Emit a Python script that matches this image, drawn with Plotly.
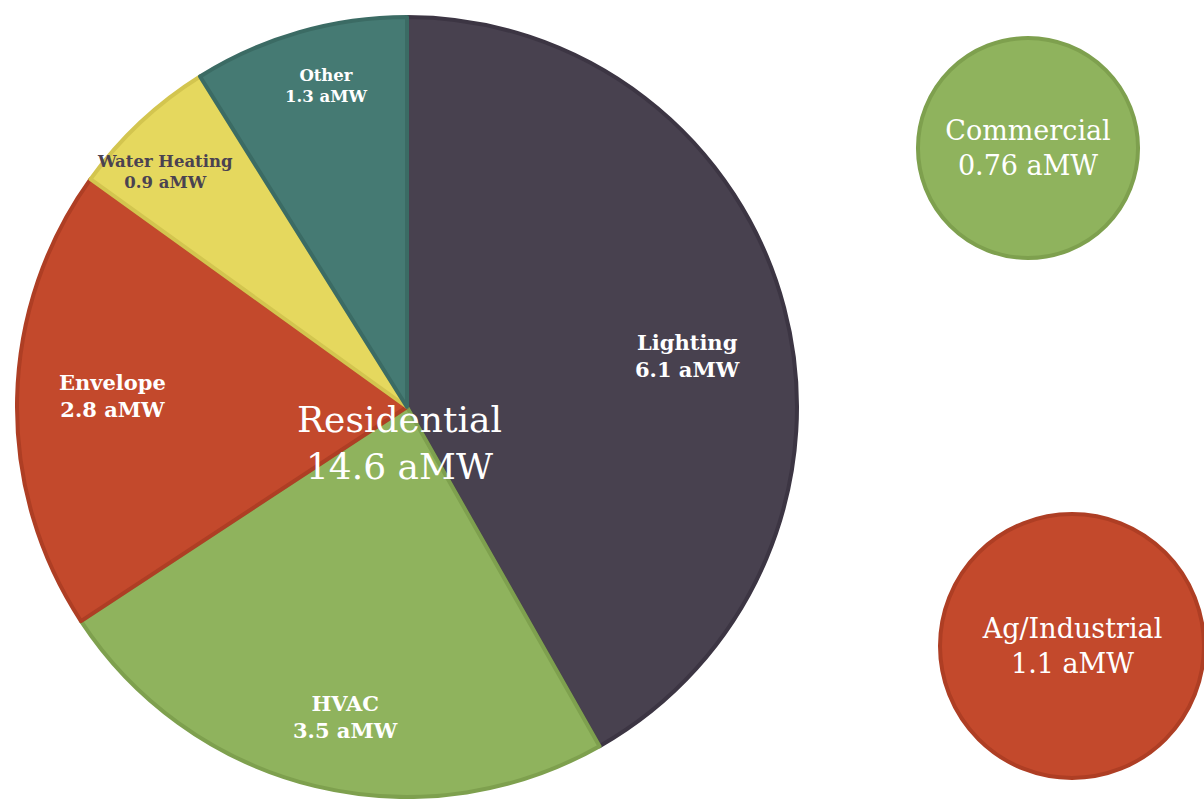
import math
import plotly.graph_objects as go

# ---- data ----
res_labels = ["Lighting", "HVAC", "Envelope", "Water Heating", "Other"]
res_values = [6.1, 3.5, 2.8, 0.9, 1.3]
res_total_label = "Residential"
res_total_value = 14.6
sector_labels = ["Commercial", "Ag/Industrial"]
sector_values = [0.76, 1.1]
unit = "aMW"

# ---- style ----
W, H = 1204, 799
slice_colors = ["#48414F", "#8FB35D", "#C3492C", "#E5D85E", "#457A73"]
slice_lines = ["#3C3543", "#7EA04E", "#AE3E24", "#D3C54F", "#3B6B64"]
label_colors = ["white", "white", "white", "#4A4251", "white"]
label_sizes = [21, 21, 21, 16.5, 16.5]
label_rfrac = [0.73, 0.81, 0.755, 0.865, 0.85]
label_dang = [4.5, -2.3, 0.9, -2.6, 1.9]
serif = "DejaVu Serif"

# main pie geometry (pixels)
cx, cy, R = 407, 407, 390

fig = go.Figure()
fig.add_trace(go.Pie(
    labels=res_labels, values=res_values, sort=False, direction="clockwise",
    rotation=0, textinfo="none", hoverinfo="label+value",
    marker=dict(colors=slice_colors, line=dict(color=slice_lines, width=4)),
    domain=dict(x=[(cx - R) / W, (cx + R) / W], y=[(H - cy - R) / H, (H - cy + R) / H]),
    showlegend=False,
))

# side circles (single-value pies)
circ = [
    dict(c=(1028, 148), r=110, color="#8FB35D", line="#7EA04E"),
    dict(c=(1073, 646), r=133, color="#C3492C", line="#AE3E24"),
]
for lab, val, g in zip(sector_labels, sector_values, circ):
    (x0, y0), r = g["c"], g["r"]
    fig.add_trace(go.Pie(
        labels=[lab], values=[val], sort=False, textinfo="text",
        text=[f"{lab}<br>{val:g} {unit}"], textposition="inside",
        insidetextfont=dict(family=serif, size=27, color="white"),
        marker=dict(colors=[g["color"]], line=dict(color=g["line"], width=4)),
        domain=dict(x=[max(0, (x0 - r) / W), min(1, (x0 + r) / W)],
                    y=[(H - y0 - r) / H, (H - y0 + r) / H]),
        showlegend=False, hoverinfo="label+value",
    ))

# slice labels placed from data angles
ann = []
total = sum(res_values)
cum = 0.0
for i, (lab, val) in enumerate(zip(res_labels, res_values)):
    mid = (cum + val / 2) / total * 360 + label_dang[i]
    cum += val
    th = math.radians(mid)
    px = cx + label_rfrac[i] * R * math.sin(th)
    py = cy - label_rfrac[i] * R * math.cos(th)
    ann.append(dict(
        x=px / W, y=1 - py / H, xref="paper", yref="paper", showarrow=False,
        text=f"<b>{lab}<br>{val:g} {unit}</b>", align="center",
        xanchor="center", yanchor="middle",
        font=dict(family=serif, size=label_sizes[i], color=label_colors[i]),
    ))

ann.append(dict(
    x=(cx - 8) / W, y=1 - (cy + 36) / H, xref="paper", yref="paper", showarrow=False,
    text=f"{res_total_label}<br>{res_total_value:g} {unit}", align="center",
    xanchor="center", yanchor="middle",
    font=dict(family=serif, size=36, color="white"),
))

fig.update_layout(
    width=W, height=H, margin=dict(l=0, r=0, t=0, b=0),
    paper_bgcolor="white", plot_bgcolor="white",
    annotations=ann,
)
fig.write_html(
    "out.html",
    config={"displayModeBar": False},
    post_script="document.body.style.margin='0';document.body.style.overflow='hidden';",
)
